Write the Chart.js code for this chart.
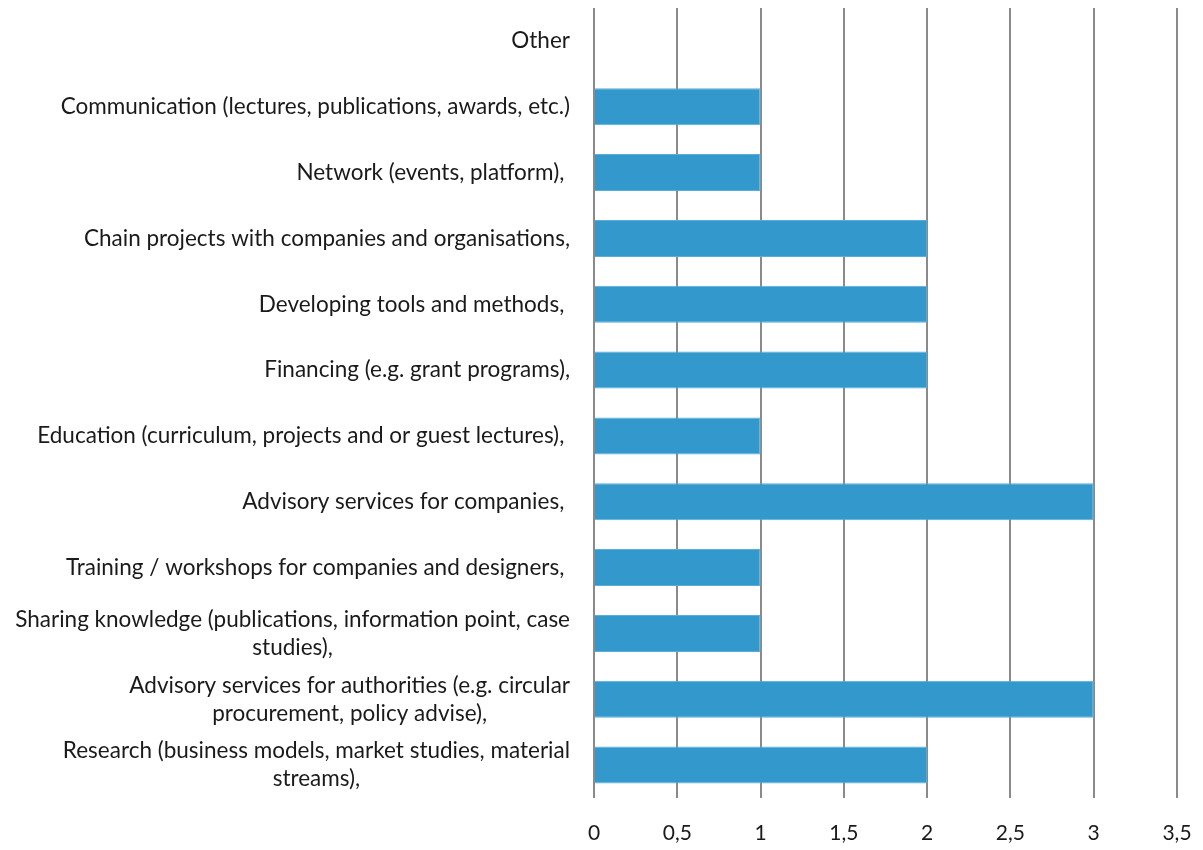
<!DOCTYPE html>
<html lang="en">
<head>
    <meta charset="UTF-8">
    <title>Activities</title>
    <script src="https://cdn.jsdelivr.net/npm/chart.js"></script>
    <style>
        html, body { margin: 0; padding: 0; background: #fff; }
        #wrap { width: 1203px; height: 850px; position: relative; }
    </style>
</head>
<body>
    <div id="wrap"><canvas id="barChart"></canvas></div>

    <script>
        // categories, top to bottom
        const categories = [
            ['Other'],
            ['Communication (lectures, publications, awards, etc.)'],
            ['Network (events, platform), '],
            ['Chain projects with companies and organisations,'],
            ['Developing tools and methods, '],
            ['Financing (e.g. grant programs),'],
            ['Education (curriculum, projects and or guest lectures), '],
            ['Advisory services for companies, '],
            ['Training / workshops for companies and designers, '],
            ['Sharing knowledge (publications, information point, case', 'studies),'],
            ['Advisory services for authorities (e.g. circular', 'procurement, policy advise),'],
            ['Research (business models, market studies, material', 'streams),']
        ];
        const counts = [0, 1, 1, 2, 2, 2, 1, 3, 1, 1, 3, 2];
        const xMin = 0, xMax = 3.5, xStep = 0.5;

        const FONT = 'Lato, "Open Sans", sans-serif';
        const FONT_SIZE = 22.5;

        // draws the category labels, each line centred on the label's own width, right aligned to the axis
        const catLabels = {
            id: 'catLabels',
            afterDraw(chart) {
                const ctx = chart.ctx;
                const y = chart.scales.y;
                const right = chart.chartArea.left - 24;
                const lh = 28;
                ctx.save();
                ctx.font = FONT_SIZE + 'px ' + FONT;
                ctx.fillStyle = '#1a1a1a';
                ctx.textBaseline = 'middle';
                ctx.textAlign = 'center';
                categories.forEach((lines, i) => {
                    const cy = y.getPixelForValue(i);
                    const w = Math.max(...lines.map(l => ctx.measureText(l).width));
                    const cx = right - w / 2;
                    const y0 = cy - (lines.length - 1) * lh / 2;
                    lines.forEach((l, j) => ctx.fillText(l, cx, y0 + j * lh));
                });
                ctx.restore();
            }
        };

        new Chart(document.getElementById('barChart').getContext('2d'), {
            type: 'bar',
            data: {
                labels: categories,
                datasets: [{
                    data: counts,
                    backgroundColor: '#3399cc',
                    borderColor: '#5aaed8',
                    borderWidth: 1,
                    categoryPercentage: 1,
                    barPercentage: 0.562
                }]
            },
            options: {
                indexAxis: 'y',
                responsive: true,
                maintainAspectRatio: false,
                animation: false,
                layout: { padding: { left: 594, right: 26, top: 8, bottom: 5 } },
                plugins: { legend: { display: false }, tooltip: { enabled: false } },
                scales: {
                    x: {
                        min: xMin,
                        max: xMax,
                        border: { display: false },
                        grid: { color: '#8a8a8a', lineWidth: 2, drawTicks: false },
                        ticks: {
                            stepSize: xStep,
                            padding: 23,
                            maxRotation: 0,
                            color: '#1a1a1a',
                            font: { family: FONT, size: 21 },
                            callback: v => String(v).replace('.', ',')
                        },
                        afterFit(scale) {
                            scale.height = 47;
                            scale.paddingLeft = 0;
                            scale.paddingRight = 0;
                        }
                    },
                    y: { display: false }
                }
            },
            plugins: [catLabels]
        });
    </script>
</body>
</html>
